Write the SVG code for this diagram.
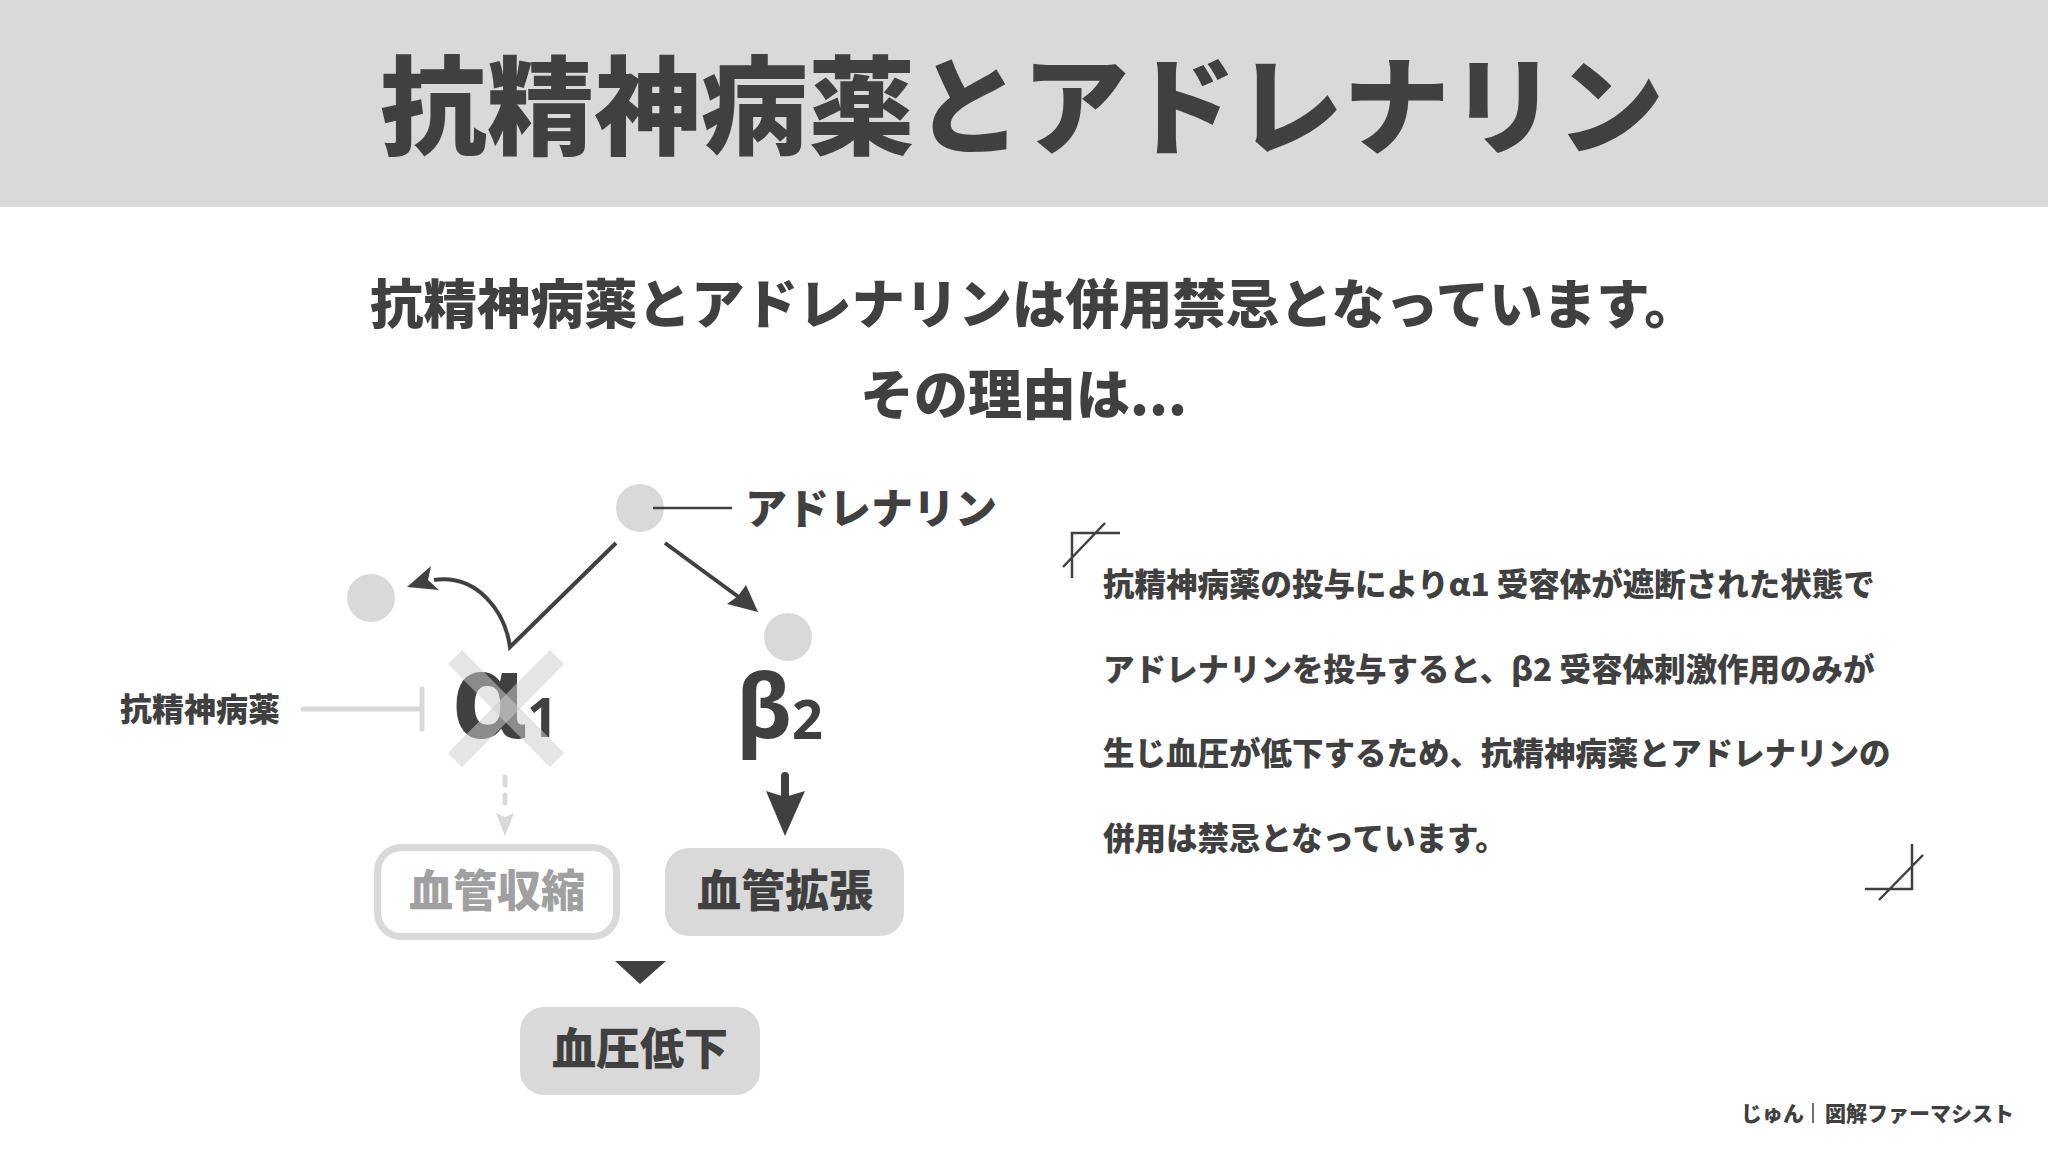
<svg xmlns="http://www.w3.org/2000/svg" width="2048" height="1152" viewBox="0 0 2048 1152">
  <style>
    .jp { font-family: "Noto Sans CJK JP", "Noto Sans", sans-serif; font-weight: 900; fill: #404040; }
    .gk { font-family: "Noto Sans", "DejaVu Sans", sans-serif; font-weight: 700; fill: #404040; }
    .dot { fill: #d9d9d9; }
    .dark { stroke: #404040; fill: none; stroke-width: 4; }
    .thin { stroke: #404040; fill: none; stroke-width: 2.5; }
    .head { fill: #404040; }
    .light { stroke: #d9d9d9; fill: none; stroke-width: 5; stroke-linecap: round; }
    .pill { fill: #d9d9d9; }
    .pill-out { fill: #ffffff; stroke: #d9d9d9; stroke-width: 7; }
  </style>

  <!-- header -->
  <rect x="0" y="0" width="2048" height="207" fill="#d9d9d9"/>
  <text class="jp" x="1022" y="146" font-size="107" text-anchor="middle">抗精神病薬とアドレナリン</text>

  <!-- intro -->
  <text class="jp" x="370" y="324" font-size="53.5">抗精神病薬とアドレナリンは併用禁忌となっています。</text>
  <text class="jp" x="860" y="415" font-size="54">その理由は...</text>

  <!-- nodes -->
  <g id="adrenaline">
    <circle class="dot" cx="640" cy="508" r="24"/>
    <text class="jp" x="745" y="524" font-size="42">アドレナリン</text>
  </g>
  <g id="released-left">
    <circle class="dot" cx="371" cy="598" r="24"/>
  </g>
  <g id="bound-right">
    <circle class="dot" cx="788" cy="637" r="24"/>
  </g>
  <g id="antipsychotic">
    <text class="jp" x="120" y="721" font-size="32">抗精神病薬</text>
  </g>
  <g id="alpha1">
    <text class="gk" x="451" y="738" font-size="118">α</text>
    <text class="gk" x="527" y="737" font-size="54">1</text>
    <g stroke="#cecece" stroke-opacity="0.53" stroke-width="20">
      <line x1="455" y1="657" x2="557" y2="760"/>
      <line x1="557" y1="657" x2="455" y2="760"/>
    </g>
  </g>
  <g id="beta2">
    <text class="gk" x="736" y="738" font-size="90">β</text>
    <text class="gk" x="792" y="739" font-size="54">2</text>
  </g>
  <g id="vasoconstriction">
    <rect class="pill-out" x="377.5" y="847.5" width="239" height="89" rx="24"/>
    <text class="jp" x="497" y="907" font-size="44" text-anchor="middle" style="fill:#a0a0a0">血管収縮</text>
  </g>
  <g id="vasodilation">
    <rect class="pill" x="665" y="848" width="239" height="88" rx="24"/>
    <text class="jp" x="785" y="907" font-size="44" text-anchor="middle">血管拡張</text>
  </g>
  <g id="hypotension">
    <rect class="pill" x="520" y="1007" width="240" height="88" rx="24"/>
    <text class="jp" x="640" y="1065" font-size="44" text-anchor="middle">血圧低下</text>
  </g>

  <!-- connectors -->
  <g id="connectors">
    <line class="thin" x1="653" y1="508" x2="732" y2="508"/>
    <path class="dark" d="M616,543 L510,647 C505,612 478,574 434,580" stroke-linejoin="miter"/>
    <polygon class="head" points="407,587 431,566 428,580 439,590"/>
    <line class="dark" x1="665" y1="543" x2="740" y2="598"/>
    <polygon class="head" points="758,612 727,604 738,596 746,585"/>
    <line class="light" x1="303" y1="709" x2="420" y2="709"/>
    <line class="light" x1="422" y1="689" x2="422" y2="729" stroke-linecap="butt"/>
    <line class="light" x1="505" y1="777" x2="505" y2="806" stroke-dasharray="8 10"/>
    <polygon points="496,813 505,817 514,813 505,836" fill="#d9d9d9"/>
    <line x1="785" y1="776" x2="785" y2="800" stroke="#404040" stroke-width="8" stroke-linecap="round"/>
    <polygon class="head" points="766,791 785,797 805,791 785,836"/>
    <polygon class="head" points="615,961 666,961 640,984"/>
  </g>

  <!-- explanation -->
  <g id="explanation">
    <path class="thin" d="M1072,578 V533 H1120 M1105,523 L1063,567"/>
    <path class="thin" d="M1912,844 V889 H1865 M1923,855 L1879,900"/>
    <text class="jp" x="1103" y="596" font-size="31.5">抗精神病薬の投与によりα1 受容体が遮断された状態で</text>
    <text class="jp" x="1103" y="681" font-size="31.5">アドレナリンを投与すると、β2 受容体刺激作用のみが</text>
    <text class="jp" x="1103" y="765" font-size="31.5">生じ血圧が低下するため、抗精神病薬とアドレナリンの</text>
    <text class="jp" x="1103" y="850" font-size="31.5">併用は禁忌となっています。</text>
  </g>

  <!-- footer -->
  <g id="footer">
    <text class="jp" x="1741" y="1121" font-size="21">じゅん</text>
    <line x1="1813" y1="1103" x2="1813" y2="1123" stroke="#404040" stroke-width="1.5"/>
    <text class="jp" x="1825" y="1121" font-size="21">図解ファーマシスト</text>
  </g>
</svg>
